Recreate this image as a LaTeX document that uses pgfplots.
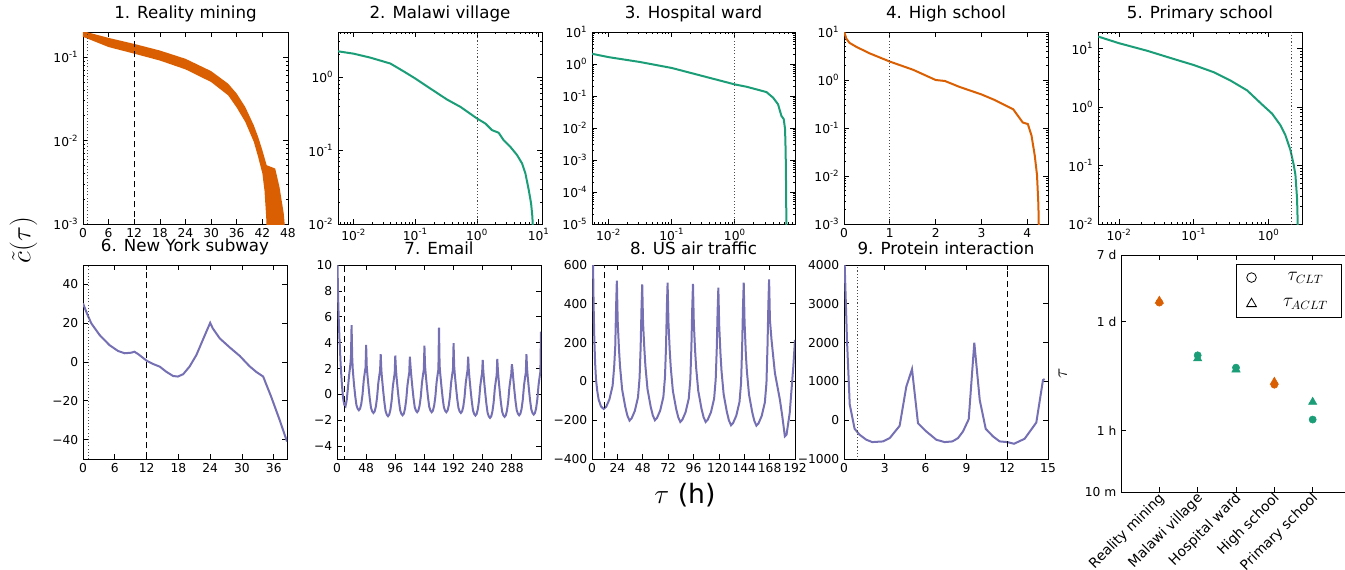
\documentclass[border=0pt]{standalone}
\usepackage{fontspec}
\setmainfont{DejaVu Sans}
\usepackage{pgfplots}
\pgfplotsset{compat=1.18}
\definecolor{orng}{HTML}{D95F02}
\definecolor{grn}{HTML}{1B9E77}
\definecolor{purp}{HTML}{7570B3}
\newcommand{\mn}{\char"2212\relax}
\newcommand{\lglab}{10\textsuperscript{\pgfmathparse{int(round(\tick/ln(10)))}\pgfmathresult}}
\pgfplotsset{
  base/.style={scale only axis, anchor=north west, enlargelimits=false, scaled ticks=false,
    axis line style={line width=0.7pt}, tick align=inside,
    major tick length=3.5pt, minor tick length=1.8pt,
    every tick/.style={black, line width=0.55pt},
    tick label style={font=\fontsize{9.2}{10}\selectfont},
    /pgf/number format/assume math mode=true, /pgf/number format/1000 sep={},
    title style={font=\fontsize{12.5}{14}\selectfont, inner sep=1.5pt}},
  crv/.style={line width=1.5pt},
  dsh/.style={black, line width=0.7pt, dash pattern=on 4.5pt off 3pt},
  dtt/.style={black!70, line width=0.7pt, dash pattern=on 0.8pt off 1.6pt},
}
\begin{document}
\begin{tikzpicture}
\path[use as bounding box] (0,0) rectangle (1008.75pt,-426.75pt);
% ---------- 1
\begin{axis}[base, ymode=log, yticklabel={\lglab}, at={(62.25pt,-24pt)}, width=153.75pt, height=144pt,
  xmin=0, xmax=48, ymin=1e-3, ymax=0.2, xtick={0,6,...,48}, title={1. Reality mining}]
\addplot[fill=orng, draw=none] coordinates {
(-1,0.23)(0,0.205)(6,0.170)(12,0.144)(18,0.120)(24,0.0955)(30,0.068)(34,0.048)(36,0.0365)(38,0.0252)(40,0.0152)(41,0.0111)(42,0.00766)(43,0.00507)(44,0.00484)(45,0.00462)(46,0.00279)(47,0.00134)(47.3,0.0009)(47.3,0.0005)
(43.1,0.0005)(42.9,0.0012)(42.5,0.0025)(42,0.00404)(41,0.00638)(40,0.00964)(38,0.0167)(36,0.0248)(34,0.0348)(30,0.0503)(24,0.0713)(18,0.091)(12,0.110)(6,0.132)(0,0.175)(-1,0.18)} -- cycle;
\addplot[dsh] coordinates {(12,1e-4)(12,1)};
\addplot[dtt] coordinates {(1,1e-4)(1,1)};
\end{axis}
% ---------- 2
\begin{axis}[base, xmode=log, ymode=log, xticklabel={\lglab}, yticklabel={\lglab}, at={(253.5pt,-24pt)}, width=153pt, height=144pt,
  xmin=0.00557, xmax=11.3, ymin=0.01, ymax=4.08, title={2. Malawi village}]
\addplot[crv, grn] coordinates {
(0.00557,2.23)(0.01,2.07)(0.0186,1.83)(0.0394,1.52)(0.0646,1.19)(0.1,0.95)(0.175,0.695)(0.327,0.492)(0.537,0.392)(1,0.272)(1.36,0.233)(1.75,0.189)(2.24,0.174)(2.70,0.138)(3.47,0.112)(4.46,0.0865)(5.37,0.0666)(6.08,0.0488)(6.89,0.029)(7.52,0.0191)(7.89,0.0126)(8.09,0.008)};
\addplot[dtt] coordinates {(1,1e-3)(1,10)};
\end{axis}
% ---------- 3
\begin{axis}[base, xmode=log, ymode=log, xticklabel={\lglab}, yticklabel={\lglab}, at={(444pt,-24pt)}, width=152.25pt, height=144pt,
  xmin=0.00546, xmax=8.97, ymin=1e-5, ymax=10, ytickten={-5,-4,-3,-2,-1,0,1}, title={3. Hospital ward}]
\addplot[crv, grn] coordinates {
(0.00546,2.09)(0.01,1.64)(0.0316,1.153)(0.1,0.752)(0.316,0.416)(1,0.23)(1.53,0.195)(2.20,0.161)(3.16,0.133)(4.03,0.089)(4.83,0.0552)(5.46,0.024)(5.94,0.019)(6.24,0.0093)(6.38,0.00178)(6.47,1.66e-4)(6.55,1e-5)(6.6,3e-6)};
\addplot[dtt] coordinates {(1,1e-6)(1,100)};
\end{axis}
% ---------- 4
\begin{axis}[base, ymode=log, yticklabel={\lglab}, at={(633pt,-24pt)}, width=153pt, height=144pt,
  xmin=0, xmax=4.45, ymin=1e-3, ymax=10, xtick={0,1,2,3,4}, title={4. High school}]
\addplot[crv, orng] coordinates {
(0,11)(0.015,9.2)(0.05,7.3)(0.12,5.94)(0.27,4.9)(0.56,3.59)(1.0,2.42)(1.51,1.63)(2.0,1.0)(2.2,0.955)(2.52,0.718)(3.0,0.5)(3.29,0.382)(3.69,0.246)(3.9,0.13)(4.01,0.121)(4.09,0.0695)(4.16,0.027)(4.21,0.0105)(4.24,0.00253)(4.25,0.0008)};
\addplot[dtt] coordinates {(1,1e-4)(1,100)};
\end{axis}
% ---------- 5
\begin{axis}[base, xmode=log, ymode=log, xticklabel={\lglab}, yticklabel={\lglab}, at={(823.5pt,-24pt)}, width=153pt, height=144pt,
  xmin=0.00525, xmax=2.78, ymin=0.01, ymax=19.1, title={5. Primary school}]
\addplot[crv, grn] coordinates {
(0.00525,16)(0.01,12.3)(0.024,9.1)(0.054,6.6)(0.1,5.2)(0.185,3.92)(0.308,2.83)(0.514,1.92)(0.815,1.1)(1.107,0.77)(1.43,0.489)(1.667,0.331)(1.945,0.184)(2.153,0.103)(2.27,0.0695)(2.388,0.0272)(2.438,0.01)(2.45,0.005)};
\addplot[dtt] coordinates {(2,1e-3)(2,100)};
\end{axis}
% ---------- 6
\begin{axis}[base, at={(62.25pt,-198.75pt)}, width=153pt, height=145.5pt,
  xmin=0, xmax=38.5, ymin=-50, ymax=50, xtick={0,6,...,36},
  ytick={-40,-20,0,20,40}, yticklabels={\mn40,\mn20,0,20,40}, title={6. New York subway}]
\addplot[crv, purp] coordinates {
(0,30.2)(0.75,25)(1.57,19.9)(3.14,13.9)(5.0,8.7)(6.6,5.7)(7.86,4.5)(9.1,4.8)(9.7,5.3)(10.4,4.1)(12,0.7)(13.2,-1.0)(14.5,-2.4)(15.7,-5.0)(17.0,-7.2)(17.9,-7.5)(18.9,-6.3)(20.1,-2.4)(21.4,3.6)(22.6,11.3)(24.0,20.2)(24.5,17.3)(25.8,12.2)(27.7,7.5)(29.6,3.1)(31.4,-2.1)(32.7,-5.1)(34.0,-7.5)(35.5,-17.8)(37.1,-29.8)(38.5,-41)};
\addplot[dsh] coordinates {(12,-60)(12,60)};
\addplot[dtt] coordinates {(1,-60)(1,60)};
\end{axis}
% ---------- 7
\begin{axis}[base, at={(252.75pt,-198.75pt)}, width=153pt, height=145.5pt,
  xmin=0, xmax=336, ymin=-5, ymax=10, xtick={0,48,...,288},
  ytick={-4,-2,...,10}, yticklabels={\mn4,\mn2,0,2,4,6,8,10}, title={7. Email}]
\addplot[crv, purp] coordinates {
(0,12)(1,9.5)(2,7.2)(3,5.6)(4,4.4)(6,2.3)(8,0.8)(10,-0.3)(12,-0.8)(14,-0.92)(16,-0.45)(18,0.5)(20,1.5)(22,2.3)(23,2.9)(24,5.36)(25,2.9)(26,1.9)(28,0.77)(30,-0.13)(32,-0.83)(34,-1.11)(36,-1.23)(38,-1.11)
(40,-0.73)(42,-0.03)(44,1.07)(46,1.77)(47,2.07)(48,3.82)(49,2.16)(50,1.56)(52,0.56)(54,-0.34)(56,-1.04)(58,-1.32)(60,-1.44)(62,-1.32)
(64,-0.94)(66,-0.24)(68,0.86)(70,1.56)(71,1.86)(72,3.1)(73,1.91)(74,1.31)(76,0.31)(78,-0.59)(80,-1.29)(82,-1.57)(84,-1.69)(86,-1.57)
(88,-1.19)(90,-0.49)(92,0.61)(94,1.31)(95,1.61)(96,3.0)(97,1.98)(98,1.38)(100,0.38)(102,-0.52)(104,-1.22)(106,-1.50)(108,-1.62)(110,-1.50)
(112,-1.12)(114,-0.42)(116,0.68)(118,1.38)(119,1.68)(120,2.92)(121,2.22)(122,1.62)(124,0.62)(126,-0.28)(128,-0.98)(130,-1.26)(132,-1.38)(134,-1.26)
(136,-0.88)(138,-0.18)(140,0.92)(142,1.62)(143,1.92)(144,3.77)(145,2.22)(146,1.62)(148,0.62)(150,-0.28)(152,-0.98)(154,-1.26)(156,-1.38)(158,-1.26)
(160,-0.88)(162,-0.18)(164,0.92)(166,1.62)(167,1.92)(168,5.15)(169,2.22)(170,1.62)(172,0.62)(174,-0.28)(176,-0.98)(178,-1.26)(180,-1.38)(182,-1.26)
(184,-0.88)(186,-0.18)(188,0.92)(190,1.62)(191,1.92)(192,3.95)(193,2.16)(194,1.56)(196,0.56)(198,-0.34)(200,-1.04)(202,-1.32)(204,-1.44)(206,-1.32)
(208,-0.94)(210,-0.24)(212,0.86)(214,1.56)(215,1.86)(216,2.92)(217,1.96)(218,1.36)(220,0.36)(222,-0.54)(224,-1.24)(226,-1.52)(228,-1.64)(230,-1.52)
(232,-1.14)(234,-0.44)(236,0.66)(238,1.36)(239,1.66)(240,2.67)(241,1.78)(242,1.18)(244,0.18)(246,-0.72)(248,-1.42)(250,-1.70)(252,-1.82)(254,-1.70)
(256,-1.32)(258,-0.62)(260,0.48)(262,1.18)(263,1.48)(264,2.74)(265,1.86)(266,1.26)(268,0.26)(270,-0.64)(272,-1.34)(274,-1.62)(276,-1.74)(278,-1.62)
(280,-1.24)(282,-0.54)(284,0.56)(286,1.26)(287,1.56)(288,2.33)(289,1.98)(290,1.38)(292,0.38)(294,-0.52)(296,-1.22)(298,-1.50)(300,-1.62)(302,-1.50)
(304,-1.12)(306,-0.42)(308,0.68)(310,1.38)(311,1.68)(312,3.1)(313,2.04)(314,1.44)(316,0.44)(318,-0.46)(320,-1.16)(322,-1.44)(324,-1.56)(326,-1.44)
(328,-1.06)(330,-0.36)(332,0.74)(334,1.44)(335,1.74)(336,4.85)};
\addplot[dsh] coordinates {(12,-6)(12,11)};
\end{axis}
% ---------- 8
\begin{axis}[base, at={(444pt,-198.75pt)}, width=152.25pt, height=145.5pt,
  xmin=0, xmax=192, ymin=-400, ymax=600, xtick={0,24,...,192},
  ytick={-400,-200,...,600}, yticklabels={\mn400,\mn200,0,200,400,600}, title={8. US air traffic}]
\addplot[crv, purp] coordinates {
(0,800)(0.5,700)(1,600)(1.5,400)(2.2,214)(3,90)(3.8,9)(5,-50)(6.3,-94)(8.5,-129)(11,-142)
(13.5,-130)(16.5,-92)(19.5,-22)(21,78)(22,182)(22.8,389)(23.5,519)(24.3,311)(25.5,168)(26.5,78)(28.5,-42)(31.5,-132)(33.5,-177)(35.5,-202)
(37.5,-190)(40.5,-152)(43.5,-82)(45,18)(46,175)(46.8,375)(47.5,500)(48.3,300)(49.5,170)(50.5,80)(52.5,-40)(55.5,-130)(57.5,-175)(59.5,-200)
(61.5,-188)(64.5,-150)(67.5,-80)(69,20)(70,178)(70.8,382)(71.5,509)(72.3,305)(73.5,161)(74.5,71)(76.5,-49)(79.5,-139)(81.5,-184)(83.5,-209)
(85.5,-197)(88.5,-159)(91.5,-89)(93,11)(94,176)(94.8,377)(95.5,502)(96.3,301)(97.5,161)(98.5,71)(100.5,-49)(103.5,-139)(105.5,-184)(107.5,-209)
(109.5,-197)(112.5,-159)(115.5,-89)(117,11)(118,169)(118.8,362)(119.5,483)(120.3,290)(121.5,144)(122.5,54)(124.5,-66)(127.5,-156)(129.5,-201)(131.5,-226)
(133.5,-214)(136.5,-176)(139.5,-106)(141,-6)(142,178)(142.8,382)(143.5,509)(144.3,305)(145.5,142)(146.5,52)(148.5,-68)(151.5,-158)(153.5,-203)(155.5,-228)
(157.5,-216)(160.5,-178)(163.5,-108)(165,-8)(166,184)(166.8,395)(167.5,526)(168.3,316)(169.8,214)(173,43)(177.7,-94)(180,-180)(182.4,-283)(184,-274)(187,-163)(190.4,77)(192,214)};
\addplot[dsh] coordinates {(12,-500)(12,700)};
\end{axis}
% ---------- 9
\begin{axis}[base, at={(633pt,-198.75pt)}, width=153pt, height=145.5pt,
  xmin=0, xmax=15, ymin=-1000, ymax=4000, xtick={0,3,...,15},
  ytick={-1000,0,1000,2000,3000,4000}, yticklabels={\mn1000,0,1000,2000,3000,4000}, title={9. Protein interaction}]
\addplot[crv, purp] coordinates {
(0,4600)(0.05,4000)(0.22,2060)(0.42,410)(0.78,-222)(1.15,-376)(1.64,-504)(2.08,-564)(2.87,-547)(3.36,-462)(4.09,-145)(4.58,863)(5.0,1316)(5.44,-77)(6.05,-290)(6.79,-504)(7.4,-564)(7.97,-547)(8.38,-462)(8.75,-290)(9.17,26)(9.58,2000)(9.98,521)(10.42,-222)(10.96,-419)(11.45,-547)(12.0,-564)(12.5,-607)(13.28,-479)(14.14,-60)(14.63,1034)(14.75,1060)};
\addplot[dsh] coordinates {(12,-1200)(12,4200)};
\addplot[dtt] coordinates {(1,-1200)(1,4200)};
\end{axis}
% ---------- 10
\begin{axis}[base, ymode=log, at={(840.75pt,-191.25pt)}, width=172.5pt, height=177.75pt,
  xmin=0, xmax=6, ymin=0.166667, ymax=168, xtick={1,2,3,4,5},
  xticklabels={Reality mining,Malawi village,Hospital ward,High school,Primary school},
  xticklabel style={rotate=45, anchor=north east, inner sep=0.5pt, yshift=2pt, font=\fontsize{10.4}{12}\selectfont},
  ytick={0.166667,1,24,168}, yticklabels={10 m,1 h,1 d,7 d}, yminorticks=false,
  ylabel={$\tau$}, ylabel style={font=\fontsize{14}{16}\selectfont, at={(axis description cs:-0.215,0.5)}, anchor=south},
  legend style={at={(0.96,0.962)}, anchor=north east, draw=black, line width=0.6pt,
    font=\fontsize{13.5}{15}\selectfont, row sep=8pt, inner xsep=8pt, inner ysep=4pt,
    /tikz/every odd column/.append style={column sep=18pt}}]
\addlegendimage{only marks, mark=o, mark size=3.6pt, black, line width=0.6pt}
\addlegendentry{$\tau_{CLT}$}
\addlegendimage{only marks, mark=triangle, mark size=4.2pt, black, line width=0.6pt}
\addlegendentry{$\tau_{ACLT}$}
\addplot[forget plot, only marks, mark=triangle*, mark size=3.6pt, orng] coordinates {(1,44)(4,4.13)};
\addplot[forget plot, only marks, mark=triangle*, mark size=3.6pt, grn] coordinates {(2,8.18)(3,5.93)(5,2.30)};
\addplot[forget plot, only marks, mark=*, mark size=2.7pt, orng] coordinates {(1,41.9)(4,3.82)};
\addplot[forget plot, only marks, mark=*, mark size=2.7pt, grn] coordinates {(2,9.0)(3,6.28)(5,1.38)};
\end{axis}
% global labels
\node[rotate=90, font=\fontsize{20}{24}\selectfont] at (17.6pt,-180pt) {$\tilde{c}(\tau)$};
\node[font=\fontsize{20}{24}\selectfont] at (513.75pt,-371.25pt) {$\tau$ (h)};
\end{tikzpicture}
\end{document}
